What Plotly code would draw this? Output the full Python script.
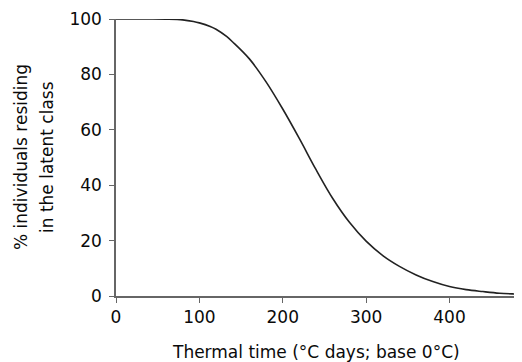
import plotly.graph_objects as go

thermal_time = [0, 20, 40, 60, 80, 93, 100, 113, 120, 133, 140, 160, 180, 200, 220, 240, 260,
                280, 300, 320, 340, 360, 380, 400, 420, 440, 460, 480, 488]
pct_latent = [100, 100, 100, 99.95, 99.7, 99.1, 98.6, 97.3, 96.3, 93.6, 91.7, 85.6, 77.3, 67.5,
              56.8, 45.6, 35.2, 26.6, 19.8, 14.6, 10.7, 7.6, 5.2, 3.4, 2.3, 1.6, 1.0, 0.7, 0.6]
x_ticks = [0, 100, 200, 300, 400]
y_ticks = [0, 20, 40, 60, 80, 100]

FONT = "DejaVu Sans"
OFF = 8  # page body margin
W, H = 522 - OFF, 362 - OFF
L, T, R, B = 116 - OFF, 19 - OFF, 0, 362 - 296

fig = go.Figure(go.Scatter(x=thermal_time, y=pct_latent, mode="lines",
                           line=dict(color="#222222", width=1.6, shape="spline", smoothing=1.0),
                           showlegend=False, hoverinfo="skip"))

tf = dict(family=FONT, size=17, color="#0a0a0a")
axis_common = dict(showgrid=False, zeroline=False, showline=True, linecolor="#666666",
                   linewidth=1.5, ticks="outside", ticklen=5, tickcolor="#666666",
                   tickwidth=1, tickfont=tf)
fig.update_layout(
    width=W, height=H,
    margin=dict(l=L, r=R, t=T, b=B, autoexpand=False),
    paper_bgcolor="white", plot_bgcolor="white",
    font=tf,
    xaxis=dict(range=[0, 487], tickvals=x_ticks, **axis_common),
    yaxis=dict(range=[0, 100], tickvals=y_ticks, ticklabelstandoff=4, **axis_common),
)
pw, ph = W - L - R, H - T - B
def px(xp, yp):
    return ((xp - OFF - L) / pw, (H - B - (yp - OFF)) / ph)

for text, xp, yp, ang in [("Thermal time (°C days; base 0°C)", 316, 352, 0),
                          ("% individuals residing", 21, 157, -90),
                          ("in the latent class", 47, 157, -90)]:
    ax, ay = px(xp, yp)
    fig.add_annotation(text=text, x=ax, y=ay, xref="paper", yref="paper", showarrow=False,
                       textangle=ang, xanchor="center", yanchor="middle", font=tf)

fig.write_html("out.html")
